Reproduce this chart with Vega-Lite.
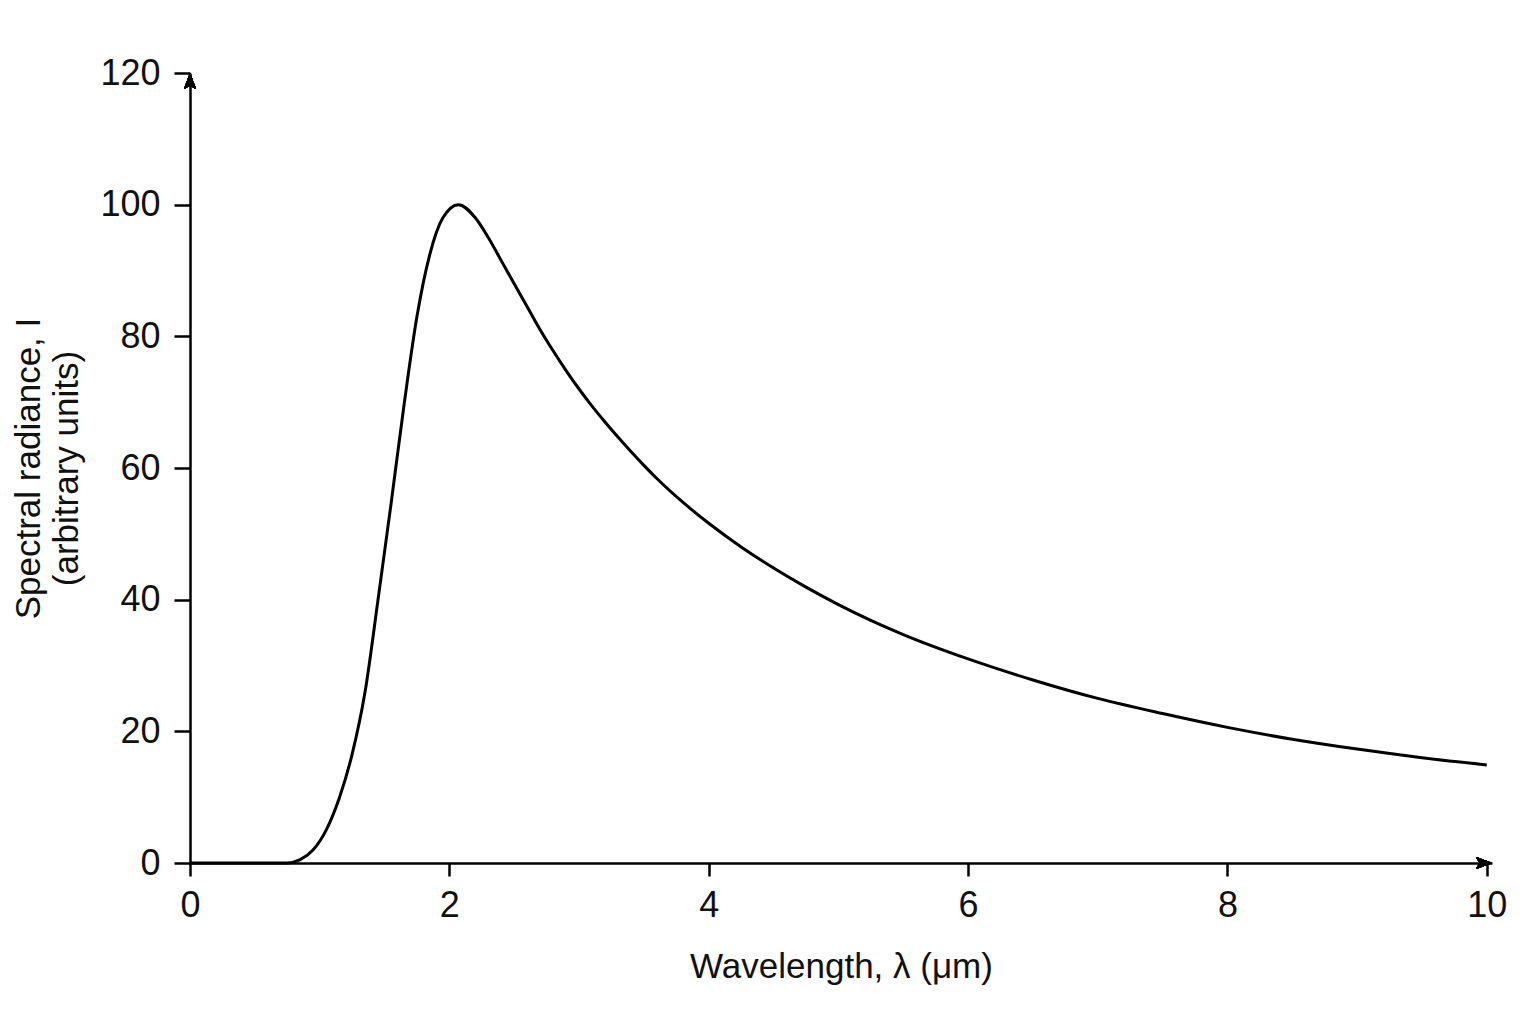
{
  "$schema": "https://vega.github.io/schema/vega-lite/v6.json",
  "autosize": "none",
  "padding": {"left": 190, "top": 73, "right": 44, "bottom": 161},
  "width": 1302,
  "height": 790,
  "background": "white",
  "config": {
    "view": {"stroke": null},
    "font": "Liberation Sans",
    "axis": {
      "grid": false,
      "domainColor": "#000000",
      "domainWidth": 2.5,
      "tickColor": "#000000",
      "tickWidth": 2.5,
      "labelColor": "#111111",
      "titleColor": "#111111",
      "labelFont": "Liberation Sans",
      "titleFont": "Liberation Sans",
      "labelFontSize": 36,
      "titleFontSize": 35,
      "titleFontWeight": "normal",
      "labelFlush": false
    }
  },
  "data": {
    "values": [
      {"wavelength": 0, "radiance": 0},
      {"wavelength": 0.5, "radiance": 0},
      {"wavelength": 0.75, "radiance": 0},
      {"wavelength": 0.85, "radiance": 0.5},
      {"wavelength": 0.95, "radiance": 2.0},
      {"wavelength": 1.05, "radiance": 5.0},
      {"wavelength": 1.15, "radiance": 9.8},
      {"wavelength": 1.25, "radiance": 16.5},
      {"wavelength": 1.35, "radiance": 26.0},
      {"wavelength": 1.45, "radiance": 40.0},
      {"wavelength": 1.55, "radiance": 54.5},
      {"wavelength": 1.65, "radiance": 69.5},
      {"wavelength": 1.75, "radiance": 83.0},
      {"wavelength": 1.85, "radiance": 92.5},
      {"wavelength": 1.95, "radiance": 98.0},
      {"wavelength": 2.07, "radiance": 100.0},
      {"wavelength": 2.2, "radiance": 98.0},
      {"wavelength": 2.3, "radiance": 95.0},
      {"wavelength": 2.4, "radiance": 91.5},
      {"wavelength": 2.5, "radiance": 88.0},
      {"wavelength": 2.6, "radiance": 84.5},
      {"wavelength": 2.7, "radiance": 81.0},
      {"wavelength": 2.8, "radiance": 77.8},
      {"wavelength": 2.9, "radiance": 74.8},
      {"wavelength": 3.0, "radiance": 72.0},
      {"wavelength": 3.1, "radiance": 69.4},
      {"wavelength": 3.2, "radiance": 67.0},
      {"wavelength": 3.3, "radiance": 64.7},
      {"wavelength": 3.4, "radiance": 62.5},
      {"wavelength": 3.5, "radiance": 60.4},
      {"wavelength": 3.6, "radiance": 58.4},
      {"wavelength": 3.8, "radiance": 54.8},
      {"wavelength": 4.0, "radiance": 51.6},
      {"wavelength": 4.25, "radiance": 48.0},
      {"wavelength": 4.5, "radiance": 44.8},
      {"wavelength": 4.75, "radiance": 41.9},
      {"wavelength": 5.0, "radiance": 39.25},
      {"wavelength": 5.25, "radiance": 36.85},
      {"wavelength": 5.5, "radiance": 34.7},
      {"wavelength": 6.0, "radiance": 31.0},
      {"wavelength": 6.5, "radiance": 27.8},
      {"wavelength": 7.0, "radiance": 25.0},
      {"wavelength": 7.5, "radiance": 22.7},
      {"wavelength": 8.0, "radiance": 20.6},
      {"wavelength": 8.5, "radiance": 18.8},
      {"wavelength": 9.0, "radiance": 17.3},
      {"wavelength": 9.5, "radiance": 16.0},
      {"wavelength": 10.0, "radiance": 14.9}
    ]
  },
  "layer": [
    {
      "mark": {"type": "line", "color": "#000000", "strokeWidth": 3, "interpolate": "monotone"},
      "encoding": {
        "x": {
          "field": "wavelength",
          "type": "quantitative",
          "scale": {"domain": [0, 10.04], "nice": false},
          "axis": {
            "values": [0, 2, 4, 6, 8, 10],
            "format": "d",
            "tickSize": 13,
            "labelPadding": 12,
            "title": "Wavelength, λ (μm)",
            "titlePadding": 26
          }
        },
        "y": {
          "field": "radiance",
          "type": "quantitative",
          "scale": {"domain": [0, 120], "nice": false},
          "axis": {
            "values": [0, 20, 40, 60, 80, 100, 120],
            "format": "d",
            "tickSize": 16,
            "labelPadding": 14,
            "title": ["Spectral radiance, I", "(arbitrary units)"],
            "titleLineHeight": 38,
            "titlePadding": 15
          }
        }
      }
    },
    {
      "mark": {"type": "point", "shape": "M -2 -0.75 L 0 0 L -2 0.75 L -1.55 0 Z", "filled": true, "color": "#000000", "size": 256, "opacity": 1},
      "encoding": {
        "x": {"datum": 10.04, "type": "quantitative"},
        "y": {"datum": 0, "type": "quantitative"}
      }
    },
    {
      "mark": {"type": "point", "shape": "M -0.75 2 L 0 0 L 0.75 2 L 0 1.55 Z", "filled": true, "color": "#000000", "size": 256, "opacity": 1},
      "encoding": {
        "x": {"datum": 0, "type": "quantitative"},
        "y": {"datum": 120, "type": "quantitative"}
      }
    }
  ]
}
